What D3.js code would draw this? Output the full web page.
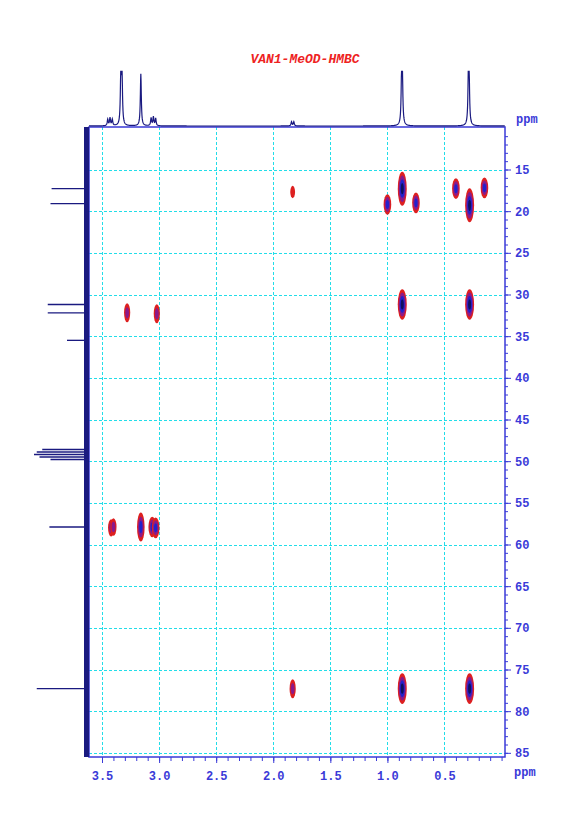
<!DOCTYPE html>
<html><head><meta charset="utf-8">
<script src="https://cdn.jsdelivr.net/npm/d3@7"></script>
<style>body{margin:0;background:#fff}svg{display:block}</style>
</head><body><svg id="c" width="585" height="827"></svg>
<script>
// cross peaks: [1H ppm, 13C ppm, vertical half-span ppm, size class]
const crossPeaks = [
  [1.83, 17.7, 0.5, 0], [1.00, 19.2, 1.0, 2], [0.87, 17.3, 1.8, 3], [0.75, 19.0, 1.0, 2],
  [0.40, 17.3, 1.0, 2], [0.28, 19.3, 1.8, 3], [0.15, 17.2, 1.0, 2],
  [3.28, 32.2, 0.9, 1], [3.02, 32.3, 0.9, 1], [0.87, 31.2, 1.6, 3], [0.28, 31.2, 1.6, 3],
  [3.42, 58.0, 0.8, 1], [3.40, 57.9, 0.8, 1], [3.16, 57.9, 1.5, 2], [3.06, 57.9, 1.0, 2], [3.03, 58.0, 1.0, 2],
  [1.83, 77.3, 0.9, 1], [0.87, 77.3, 1.6, 3], [0.28, 77.3, 1.6, 3]
];
// 1D proton peaks: [ppm, height fraction]
const protonPeaks = [[3.45,0.12],[3.43,0.15],[3.41,0.12],[3.335,1.0],[3.325,0.95],[3.16,1.0],
  [3.07,0.15],[3.05,0.17],[3.03,0.14],[1.84,0.08],[1.82,0.08],[0.87,0.98],[0.875,0.9],[0.29,0.92],[0.285,0.88]];
// 1D carbon peaks: [ppm, length fraction]
const carbonPeaks = [[17.3,0.68],[19.1,0.7],[31.2,0.75],[32.2,0.75],[35.5,0.4],[48.6,0.85],[48.9,0.95],
  [49.2,1.0],[49.5,0.9],[49.8,0.7],[57.9,0.72],[77.3,0.95]];
const xTicks = [3.5, 3.0, 2.5, 2.0, 1.5, 1.0, 0.5];
const yTicks = [15, 20, 25, 30, 35, 40, 45, 50, 55, 60, 65, 70, 75, 80, 85];

const svg = d3.select("#c");
const L = 89, R = 505, T = 127, B = 757, blue = "#3a3ad8", font = "'Liberation Mono', monospace";
const x = d3.scaleLinear().domain([3.614, -0.03]).range([L, R]);
const y = d3.scaleLinear().domain([9.9, 85.5]).range([T, B]);

svg.append("text").attr("x", 305).attr("y", 63).attr("text-anchor", "middle")
  .attr("fill", "#ee2222").attr("font-family", font).attr("font-weight", "bold")
  .attr("font-style", "italic").attr("font-size", 13).text("VAN1-MeOD-HMBC");

// grid
const g = svg.append("g").attr("stroke", "#22dde8").attr("stroke-dasharray", "3,2").attr("stroke-width", 1);
xTicks.forEach(t => g.append("line").attr("x1", Math.round(x(t)) + 0.5).attr("x2", Math.round(x(t)) + 0.5).attr("y1", T).attr("y2", B));
yTicks.forEach(t => g.append("line").attr("x1", L).attr("x2", R).attr("y1", Math.round(y(t)) + 0.5).attr("y2", Math.round(y(t)) + 0.5));

// frame
svg.append("rect").attr("x", L).attr("y", T).attr("width", R - L).attr("height", B - T)
  .attr("fill", "none").attr("stroke", blue).attr("stroke-width", 1.5);

// axes
const xa = svg.append("g").attr("transform", `translate(0,${B})`)
  .call(d3.axisBottom(x).tickValues(d3.range(0, 36).map(i => i / 10)).tickSize(4).tickFormat(""));
const xb = svg.append("g").attr("transform", `translate(0,${B})`)
  .call(d3.axisBottom(x).tickValues(xTicks).tickSize(6).tickPadding(8).tickFormat(d3.format(".1f")));
const ya = svg.append("g").attr("transform", `translate(${R},0)`)
  .call(d3.axisRight(y).tickValues(d3.range(11, 86, 1)).tickSize(3).tickFormat(""));
const yb = svg.append("g").attr("transform", `translate(${R},0)`)
  .call(d3.axisRight(y).tickValues(yTicks).tickSize(6).tickPadding(4));
[xa, xb, ya, yb].forEach(a => {
  a.select(".domain").remove();
  a.selectAll("line").attr("stroke", blue);
  a.selectAll("text").attr("fill", blue).attr("font-family", font).attr("font-weight", "bold").attr("font-size", 12);
});
svg.append("text").attr("x", 516).attr("y", 123).attr("fill", blue).attr("font-family", font)
  .attr("font-weight", "bold").attr("font-size", 12).text("ppm");
svg.append("text").attr("x", 514).attr("y", 776).attr("fill", blue).attr("font-family", font)
  .attr("font-weight", "bold").attr("font-size", 12).text("ppm");

// top projection
const line1 = "#1a1a80";
const w1 = 0.005;
const topPts = d3.range(3.614, -0.03, -0.002).map(p => {
  let s = 0;
  protonPeaks.forEach(([c, h]) => s += h * w1 * w1 / ((p - c) ** 2 + w1 * w1));
  return [x(p), 126 - Math.min(s, 1.05) * 52];
});
svg.append("path").attr("d", d3.line()(topPts)).attr("fill", "none").attr("stroke", line1).attr("stroke-width", 1.2);

// left projection: noisy baseline band + peaks
svg.append("rect").attr("x", 84).attr("y", T).attr("width", 5).attr("height", B - T).attr("fill", line1);
carbonPeaks.forEach(([c, h]) => svg.append("line").attr("x1", 89).attr("x2", 89 - h * 55)
  .attr("y1", y(c)).attr("y2", y(c)).attr("stroke", line1).attr("stroke-width", 1.3));

// cross peaks as nested contour ellipses
const levels = ["#dd2020", "#8a1a8a", "#2222cc", "#101060"];
crossPeaks.forEach(([px, py, span, sz]) => {
  const ry = (y(py + span) - y(py)) + 2, rx = 2.4 + sz * 0.7;
  const n = Math.min(levels.length, sz + 1);
  for (let i = 0; i < n; i++) {
    const f = 1 - i / (n + 0.5);
    svg.append("ellipse").attr("cx", x(px)).attr("cy", y(py)).attr("rx", rx * f).attr("ry", ry * f)
      .attr("fill", levels[i]);
  }
});
</script></body></html>
